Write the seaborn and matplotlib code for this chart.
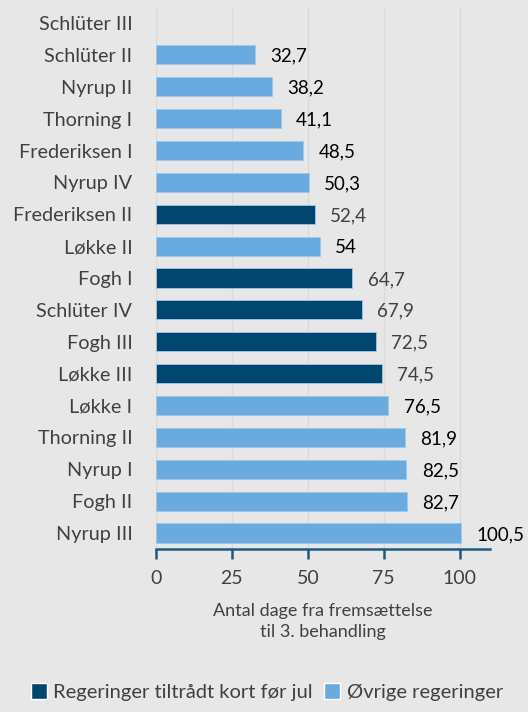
import matplotlib
matplotlib.use('Agg')
import matplotlib.pyplot as plt
from matplotlib.patches import Patch
import seaborn as sns
import pandas as pd
import numpy as np

regeringer = ['Schlüter III', 'Schlüter II', 'Nyrup II', 'Thorning I', 'Frederiksen I',
              'Nyrup IV', 'Frederiksen II', 'Løkke II', 'Fogh I', 'Schlüter IV',
              'Fogh III', 'Løkke III', 'Løkke I', 'Thorning II', 'Nyrup I',
              'Fogh II', 'Nyrup III']
dage = [np.nan, 32.7, 38.2, 41.1, 48.5, 50.3, 52.4, 54, 64.7, 67.9,
        72.5, 74.5, 76.5, 81.9, 82.5, 82.7, 100.5]
kort_foer_jul = ['Frederiksen II', 'Fogh I', 'Schlüter IV', 'Fogh III', 'Løkke III']

GRP_DARK = 'Regeringer tiltrådt kort før jul'
GRP_LIGHT = 'Øvrige regeringer'
MORK = '#00466f'
LYS = '#6aabdf'
BG = '#e7e7e7'

df = pd.DataFrame({'Regering': regeringer, 'Dage': dage})
df['Gruppe'] = [GRP_DARK if r in kort_foer_jul else GRP_LIGHT for r in regeringer]

sns.set_style('white')
plt.rcParams['font.family'] = ['Lato', 'DejaVu Sans']

fig = plt.figure(figsize=(5.28, 7.12), dpi=100, facecolor=BG)
ax = fig.add_axes([0.2955, 0.229, 0.6325, 0.761])
ax.set_facecolor(BG)

sns.barplot(data=df, y='Regering', x='Dage', hue='Gruppe', order=regeringer,
            hue_order=[GRP_DARK, GRP_LIGHT], palette={GRP_DARK: MORK, GRP_LIGHT: LYS},
            dodge=False, width=0.6, orient='h', ax=ax, legend=False, saturation=1,
            edgecolor='#9cc8ea', linewidth=0.6)

# dataetiketter med komma som decimaltegn
for i, (r, v) in enumerate(zip(regeringer, dage)):
    if np.isnan(v):
        continue
    farve = '#404040' if r in kort_foer_jul else '#000000'
    ax.annotate(f'{v:g}'.replace('.', ','), (v, i), xytext=(11, -1),
                textcoords='offset points', va='center', ha='left',
                fontsize=13.5, color=farve)

ax.set_xlim(0, 110)
ax.set_ylim(len(regeringer) - 0.5, -0.5)
ax.set_xticks([0, 25, 50, 75, 100])
ax.xaxis.grid(True, color='#dadada', linewidth=1)
ax.set_axisbelow(True)
for s in ['top', 'right', 'left']:
    ax.spines[s].set_visible(False)
ax.spines['bottom'].set_color('#1d5a80')
ax.spines['bottom'].set_linewidth(1.8)
ax.tick_params(axis='x', bottom=True, direction='out', length=7, width=1.8, color='#1d5a80',
               labelsize=14, labelcolor='#404040', pad=8)
ax.tick_params(axis='y', length=0, labelsize=14.3, labelcolor='#404040', pad=17)
ax.set_ylabel('')
ax.set_xlabel('Antal dage fra fremsættelse\ntil 3. behandling', fontsize=13,
              color='#404040', labelpad=12, linespacing=1.35)

handles = [Patch(facecolor=MORK, label=GRP_DARK), Patch(facecolor=LYS, label=GRP_LIGHT)]
fig.legend(handles=handles, loc='center', bbox_to_anchor=(0.505, 0.028), ncol=2,
           frameon=False, fontsize=14.5, handlelength=0.8, handleheight=0.8,
           handletextpad=0.3, columnspacing=0.6, labelcolor='#404040')

fig.savefig('out.png', dpi=100, facecolor=BG)
